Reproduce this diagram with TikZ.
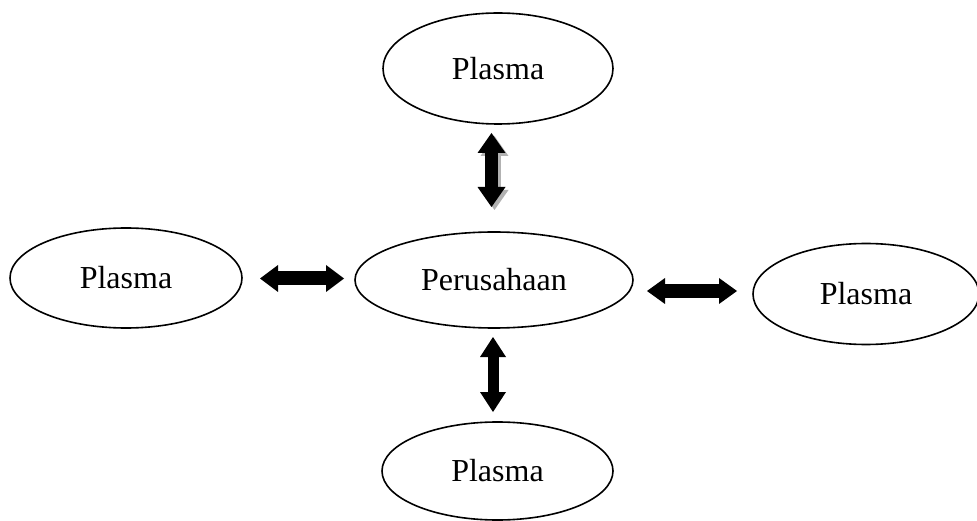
\documentclass[tikz,border=0pt]{standalone}
\usepackage{fontspec}
\setmainfont{Liberation Serif}
\usetikzlibrary{shapes.geometric,arrows.meta}
\begin{document}
\begin{tikzpicture}[x=1pt,y=-1pt,
  oval/.style={ellipse,draw,line width=1.6pt,inner sep=0pt,font=\fontsize{32}{38}\selectfont},
  barrow/.style={line width=#1,line cap=butt}]
\useasboundingbox (0,0) rectangle (977,521);
\node[oval,minimum width=230pt,minimum height=111pt] (top) at (498,68.5) {Plasma};
\node[oval,minimum width=232pt,minimum height=100pt] (left) at (126,278) {Plasma};
\node[oval,minimum width=278pt,minimum height=96pt] (mid) at (494,280) {Perusahaan};
\node[oval,minimum width=226pt,minimum height=101pt] (right) at (866,294) {Plasma};
\node[oval,minimum width=231pt,minimum height=98pt] (bot) at (497.5,471) {Plasma};
% arrow end points
\coordinate (t1) at (491.5,133);
\coordinate (t2) at (491.5,207);
\coordinate (l1) at (260,278.5);
\coordinate (l2) at (344,278.5);
\coordinate (r1) at (647,291);
\coordinate (r2) at (737,291);
\coordinate (b1) at (493,337);
\coordinate (b2) at (493,412);
% top arrow with shadow
\draw[barrow=13pt,gray!60,{Triangle[width=28pt,length=20pt,line width=0pt]}-{Triangle[width=28pt,length=20pt,line width=0pt]}] ([shift={(3,3)}]t1) -- ([shift={(3,3)}]t2);
\draw[barrow=13pt,{Triangle[width=28pt,length=20pt,line width=0pt]}-{Triangle[width=28pt,length=20pt,line width=0pt]}] (t1) -- (t2);
\draw[barrow=14pt,{Triangle[width=27pt,length=18pt,line width=0pt]}-{Triangle[width=27pt,length=18pt,line width=0pt]}] (l1) -- (l2);
\draw[barrow=14pt,{Triangle[width=26pt,length=18pt,line width=0pt]}-{Triangle[width=26pt,length=18pt,line width=0pt]}] (r1) -- (r2);
\draw[barrow=11pt,{Triangle[width=26pt,length=20pt,line width=0pt]}-{Triangle[width=26pt,length=20pt,line width=0pt]}] (b1) -- (b2);
\end{tikzpicture}
\end{document}
